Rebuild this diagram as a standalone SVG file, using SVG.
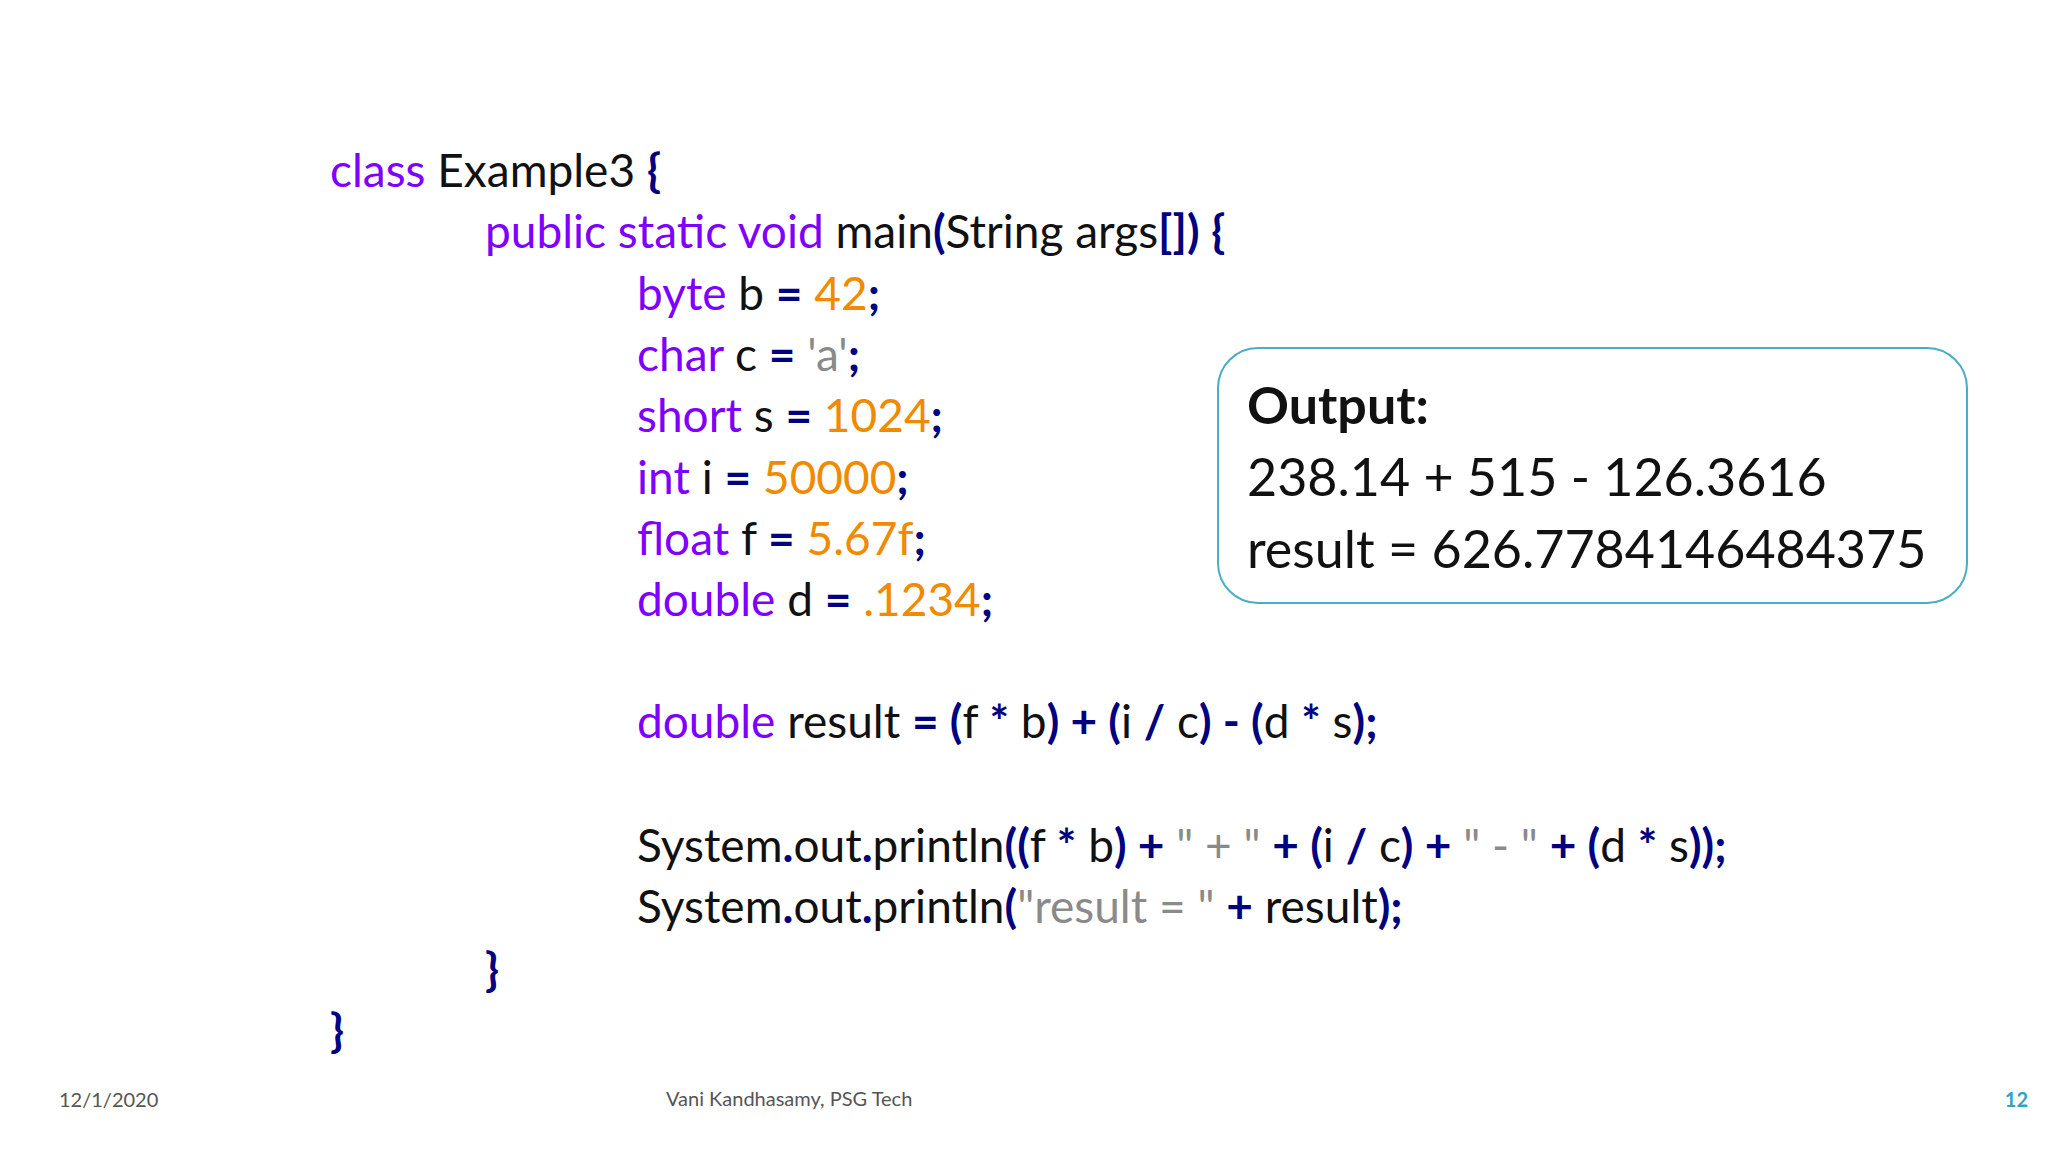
<svg xmlns="http://www.w3.org/2000/svg" width="2048" height="1152" viewBox="0 0 2048 1152">
<style>
.c{font-family:Lato,"Open Sans","Liberation Sans",sans-serif;font-size:46px;fill:#111}
.k{fill:#8000ff}
.p{fill:#000080;font-weight:bold}
.n{fill:#f08a00}
.s{fill:#8a8a8a}
.o{font-family:Lato,"Open Sans","Liberation Sans",sans-serif;font-size:52px;fill:#111}
.f{font-family:Lato,"Open Sans","Liberation Sans",sans-serif;font-size:20px;fill:#555}
</style>
<rect width="2048" height="1152" fill="#fff"/>
<g id="code">
<text class="c" x="330" y="187"><tspan class="k">class</tspan> Example3 <tspan class="p">{</tspan></text>
<text class="c" x="485" y="248"><tspan class="k">public static void</tspan> main<tspan class="p">(</tspan>String args<tspan class="p">[])</tspan> <tspan class="p">{</tspan></text>
<text class="c" x="637" y="310"><tspan class="k">byte</tspan> b <tspan class="p">=</tspan> <tspan class="n">42</tspan><tspan class="p">;</tspan></text>
<text class="c" x="637" y="371"><tspan class="k">char</tspan> c <tspan class="p">=</tspan> <tspan class="s">'a'</tspan><tspan class="p">;</tspan></text>
<text class="c" x="637" y="432"><tspan class="k">short</tspan> s <tspan class="p">=</tspan> <tspan class="n">1024</tspan><tspan class="p">;</tspan></text>
<text class="c" x="637" y="494"><tspan class="k">int</tspan> i <tspan class="p">=</tspan> <tspan class="n">50000</tspan><tspan class="p">;</tspan></text>
<text class="c" x="637" y="555"><tspan class="k">float</tspan> f <tspan class="p">=</tspan> <tspan class="n">5.67f</tspan><tspan class="p">;</tspan></text>
<text class="c" x="637" y="616"><tspan class="k">double</tspan> d <tspan class="p">=</tspan> <tspan class="n">.1234</tspan><tspan class="p">;</tspan></text>
<text class="c" x="637" y="738"><tspan class="k">double</tspan> result <tspan class="p">= (</tspan>f <tspan class="p">*</tspan> b<tspan class="p">) + (</tspan>i <tspan class="p">/</tspan> c<tspan class="p">) - (</tspan>d <tspan class="p">*</tspan> s<tspan class="p">);</tspan></text>
<text class="c" x="637" y="862">System<tspan class="p">.</tspan>out<tspan class="p">.</tspan>println<tspan class="p">((</tspan>f <tspan class="p">*</tspan> b<tspan class="p">) +</tspan> <tspan class="s">" + "</tspan> <tspan class="p">+ (</tspan>i <tspan class="p">/</tspan> c<tspan class="p">) +</tspan> <tspan class="s">" - "</tspan> <tspan class="p">+ (</tspan>d <tspan class="p">*</tspan> s<tspan class="p">));</tspan></text>
<text class="c" x="637" y="923">System<tspan class="p">.</tspan>out<tspan class="p">.</tspan>println<tspan class="p">(</tspan><tspan class="s">"result = "</tspan> <tspan class="p">+</tspan> result<tspan class="p">);</tspan></text>
<text class="c p" x="485" y="986">}</text>
<text class="c p" x="330" y="1047">}</text>
</g>
<g id="output">
<rect x="1218" y="348" width="749" height="255" rx="40" fill="#fff" stroke="#4bacc6" stroke-width="2"/>
<text class="o" x="1247" y="424" font-weight="bold">Output:</text>
<text class="o" x="1247" y="496">238.14 + 515 - 126.3616</text>
<text class="o" x="1247" y="568">result = 626.7784146484375</text>
</g>
<g id="footer">
<text class="f" x="59" y="1107">12/1/2020</text>
<text class="f" x="666" y="1106">Vani Kandhasamy, PSG Tech</text>
<text class="f" x="2028" y="1107" text-anchor="end" font-weight="bold" fill="#31a3c0" style="fill:#31a3c0">12</text>
</g>
</svg>
